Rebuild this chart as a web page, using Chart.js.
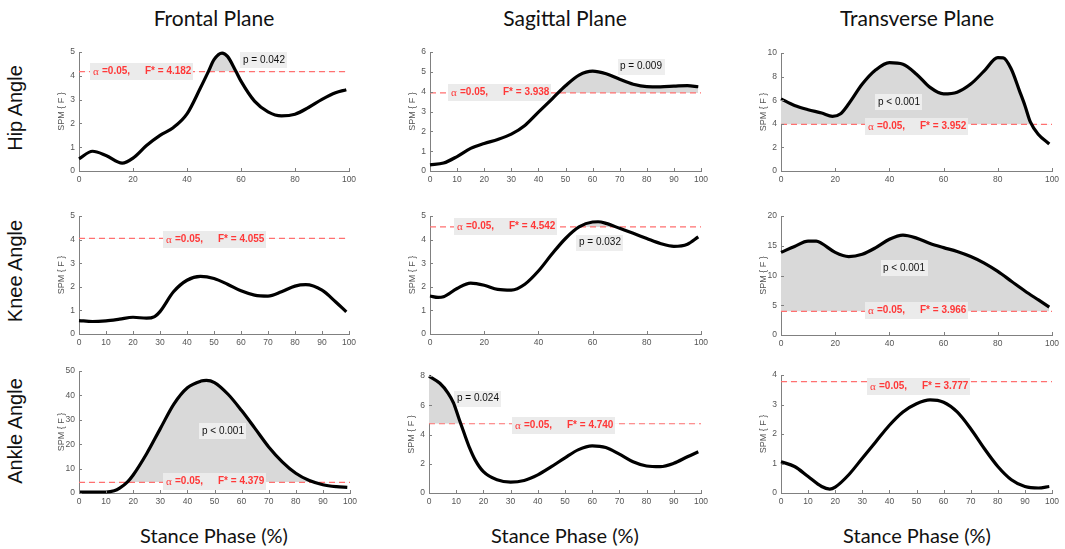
<!DOCTYPE html>
<html>
<head>
<meta charset="utf-8">
<script src="https://cdn.jsdelivr.net/npm/chart.js@4.4.1/dist/chart.umd.min.js"></script>
<style>
  body { margin: 0; background: #fff; }
  #page { position: relative; width: 1065px; height: 549px; overflow: hidden; }
  #page canvas { position: absolute; }
  .colTitle, .xTitle { position: absolute; font-family: Lato, "Open Sans", sans-serif; font-size: 21px; color: #111; transform: translate(-50%, -50%); white-space: nowrap; }
  .xTitle { font-size: 20px; }
  .rowTitle { position: absolute; font-family: "Liberation Sans", Arial, sans-serif; font-size: 20px; color: #111; white-space: nowrap; transform: translate(-50%, -50%) rotate(-90deg); }
</style>
</head>
<body>
<div id="page"></div>
<script>
// labels
const planes = ["Frontal Plane", "Sagittal Plane", "Transverse Plane"];
const joints = ["Hip Angle", "Knee Angle", "Ankle Angle"];
const xTitle = "Stance Phase (%)";

// SPM{F} curves (stance % , F)
const hipFrontalX = [0, 5, 10, 16, 20, 25, 30, 35, 40, 45, 48, 50, 53, 55, 58, 60, 65, 70, 75, 80, 85, 90, 95, 99];
const hipFrontalF = [0.51, 0.83, 0.65, 0.33, 0.54, 1.07, 1.5, 1.83, 2.4, 3.5, 4.2, 4.68, 4.96, 4.82, 4.22, 3.78, 2.94, 2.49, 2.32, 2.39, 2.67, 3.01, 3.29, 3.42];
const hipSagittalX = [0, 5, 10, 15, 20, 25, 30, 35, 40, 45, 50, 55, 60, 65, 70, 75, 80, 85, 90, 95, 99];
const hipSagittalF = [0.31, 0.4, 0.73, 1.14, 1.39, 1.59, 1.86, 2.3, 2.97, 3.63, 4.3, 4.84, 5.04, 4.91, 4.63, 4.38, 4.26, 4.25, 4.28, 4.31, 4.25];
const hipTransverseX = [0, 5, 10, 15, 19, 22, 25, 30, 35, 40, 45, 50, 55, 60, 65, 70, 75, 80, 82, 85, 88, 90, 92, 95, 99];
const hipTransverseF = [6.12, 5.56, 5.2, 4.92, 4.64, 4.86, 5.7, 7.37, 8.58, 9.19, 9.05, 8.21, 7.09, 6.54, 6.68, 7.37, 8.49, 9.61, 9.6, 8.63, 6.8, 5.56, 4.16, 3.1, 2.29];
const kneeFrontalX = [0, 5, 10, 15, 20, 25, 28, 30, 35, 40, 45, 50, 55, 60, 65, 70, 75, 80, 84, 90, 95, 99];
const kneeFrontalF = [0.57, 0.53, 0.56, 0.63, 0.71, 0.67, 0.74, 0.95, 1.79, 2.28, 2.44, 2.35, 2.11, 1.83, 1.65, 1.61, 1.79, 2.03, 2.09, 1.86, 1.37, 0.94];
const kneeSagittalX = [0, 3, 5, 10, 15, 20, 25, 30, 35, 40, 45, 50, 55, 60, 62, 65, 70, 75, 80, 85, 90, 95, 99];
const kneeSagittalF = [1.61, 1.55, 1.58, 1.93, 2.16, 2.07, 1.89, 1.86, 2.11, 2.67, 3.39, 4.05, 4.54, 4.75, 4.76, 4.69, 4.48, 4.27, 4.05, 3.84, 3.72, 3.81, 4.12];
const kneeTransverseX = [0, 5, 10, 13, 15, 20, 25, 30, 35, 40, 45, 50, 55, 60, 65, 70, 75, 80, 85, 90, 95, 99];
const kneeTransverseF = [13.9, 14.9, 15.8, 15.8, 15.4, 13.9, 13.2, 13.6, 14.7, 16.1, 16.8, 16.3, 15.4, 14.7, 14.05, 13.2, 12.1, 10.7, 9.05, 7.4, 5.9, 4.7];
const ankleFrontalX = [0, 5, 10, 13, 15, 18, 20, 25, 30, 35, 40, 45, 47, 50, 55, 60, 65, 70, 75, 80, 85, 90, 95, 99];
const ankleFrontalF = [0.4, 0.4, 0.4, 0.9, 2, 4.7, 7.4, 16.2, 26.4, 36.5, 43.2, 45.9, 46.2, 45.3, 40.5, 33.8, 26.4, 18.9, 12.8, 8.1, 5.1, 3.4, 2.6, 2.3];
const ankleSagittalX = [0, 4, 7, 9, 11, 13, 15, 17, 20, 25, 30, 35, 40, 45, 50, 55, 60, 65, 70, 75, 80, 85, 90, 95, 99];
const ankleSagittalF = [8.0, 7.51, 6.84, 6.17, 5.1, 4.05, 3.05, 2.25, 1.46, 0.9, 0.74, 0.86, 1.24, 1.8, 2.41, 2.97, 3.22, 3.11, 2.66, 2.14, 1.85, 1.8, 2.03, 2.48, 2.82];
const ankleTransverseX = [0, 5, 10, 15, 18, 20, 25, 30, 35, 40, 45, 50, 55, 60, 65, 70, 75, 80, 85, 90, 95, 99];
const ankleTransverseF = [1.06, 0.9, 0.56, 0.22, 0.13, 0.2, 0.62, 1.18, 1.74, 2.3, 2.75, 3.03, 3.16, 3.08, 2.75, 2.18, 1.51, 0.9, 0.45, 0.22, 0.17, 0.22];

const curveX = [hipFrontalX, hipSagittalX, hipTransverseX, kneeFrontalX, kneeSagittalX, kneeTransverseX, ankleFrontalX, ankleSagittalX, ankleTransverseX];
const curveF = [hipFrontalF, hipSagittalF, hipTransverseF, kneeFrontalF, kneeSagittalF, kneeTransverseF, ankleFrontalF, ankleSagittalF, ankleTransverseF];

// critical thresholds, p-values, axis ticks
const fCrit = [4.182, 3.938, 3.952, 4.055, 4.542, 3.966, 4.379, 4.740, 3.777];
const pText = ["p = 0.042", "p = 0.009", "p < 0.001", null, "p = 0.032", "p < 0.001", "p < 0.001", "p = 0.024", null];
const yMax = [5, 6, 10, 5, 5, 20, 50, 8, 4];
const yStep = [1, 1, 2, 1, 1, 5, 10, 2, 1];
const xStep = [20, 10, 20, 10, 20, 20, 10, 10, 10];

// layout: plot area boxes [left, top, right, bottom] in page pixels
const plotBoxes = [
  [79, 51, 349, 171], [430, 51, 701, 171], [781, 52, 1052, 171],
  [79, 215, 349, 334], [430, 215, 701, 334], [781, 215, 1052, 335],
  [79, 370, 350, 493], [429, 375, 701, 493], [781, 374, 1052, 493]
];
// where the label boxes sit, in data units [x, y]
const critLabelAt = [[23, 4.19], [25.7, 3.95], [50, 3.78], [50.2, 3.99], [27.7, 4.58], [50, 4.17], [50, 4.6], [49.6, 4.62], [50.7, 3.62]];
const pLabelAt = [[68.5, 4.65], [78, 5.27], [43.5, 5.84], null, [62.7, 3.88], [45.4, 11.25], [53.1, 25.3], [18, 6.45], null];

const Y_AXIS_W = 23, X_AXIS_H = 20, PAD_TOP = 8, PAD_RIGHT = 12;
const page = document.getElementById("page");

function addText(cls, text, x, y) {
  const d = document.createElement("div");
  d.className = cls;
  d.textContent = text;
  d.style.left = x + "px";
  d.style.top = y + "px";
  page.appendChild(d);
}

[214, 565, 917].forEach((cx, i) => {
  addText("colTitle", planes[i], cx, 17);
  addText("xTitle", xTitle, cx, 535);
});
[108, 271, 431].forEach((cy, i) => addText("rowTitle", joints[i], 15, cy));

// MATLAB-like ticks pointing into the axes
const inwardTicks = {
  id: "inwardTicks",
  afterDraw(chart) {
    const { ctx, chartArea: a, scales } = chart;
    ctx.save();
    ctx.strokeStyle = "#808080";
    ctx.lineWidth = 1;
    ctx.beginPath();
    scales.x.ticks.forEach((t) => {
      const px = Math.round(scales.x.getPixelForValue(t.value)) + 0.5;
      ctx.moveTo(px, a.bottom);
      ctx.lineTo(px, a.bottom - 3);
    });
    scales.y.ticks.forEach((t) => {
      const py = Math.round(scales.y.getPixelForValue(t.value)) + 0.5;
      ctx.moveTo(a.left, py);
      ctx.lineTo(a.left + 3, py);
    });
    ctx.stroke();
    ctx.restore();
  }
};

// alpha / F* box and p-value box, drawn after the dashed line but under the curve
const spmLabels = {
  id: "spmLabels",
  afterDatasetDraw(chart, args, opts) {
    if (args.index !== 1) return;
    const { ctx, scales } = chart;
    ctx.save();
    ctx.textBaseline = "middle";
    // critical threshold label
    const cx = scales.x.getPixelForValue(opts.critAt[0]);
    const cy = scales.y.getPixelForValue(opts.critAt[1]);
    const bw = 103, bh = 17;
    const bl = Math.round(cx - bw / 2), bt = Math.round(cy - bh / 2);
    ctx.fillStyle = "#ebebeb";
    ctx.fillRect(bl, bt, bw, bh);
    ctx.fillStyle = "#ff3838";
    ctx.font = "11px 'Liberation Serif', serif";
    ctx.fillText("α", bl + 3, bt + bh / 2 + 1);
    ctx.font = "bold 10px 'Liberation Sans', Arial, sans-serif";
    ctx.fillText("=0.05,", bl + 12, bt + bh / 2);
    ctx.fillText("F* = " + opts.crit.toFixed(3), bl + 55, bt + bh / 2);
    // p-value label
    if (opts.p) {
      ctx.font = "10px 'Liberation Sans', Arial, sans-serif";
      const tw = ctx.measureText(opts.p).width;
      const px = scales.x.getPixelForValue(opts.pAt[0]);
      const py = scales.y.getPixelForValue(opts.pAt[1]);
      const w = tw + 5, h = 16;
      ctx.fillStyle = "#eeeeee";
      ctx.fillRect(Math.round(px - w / 2), Math.round(py - h / 2), w, h);
      ctx.fillStyle = "#111";
      ctx.fillText(opts.p, Math.round(px - tw / 2), py);
    }
    ctx.restore();
  }
};

const tickFont = { family: "'Liberation Sans', Arial, sans-serif", size: 8.5 };

plotBoxes.forEach((b, i) => {
  const [L, T, R, B] = b;
  const canvas = document.createElement("canvas");
  const w = R - L + Y_AXIS_W + PAD_RIGHT;
  const h = B - T + PAD_TOP + X_AXIS_H;
  canvas.width = w;
  canvas.height = h;
  canvas.style.left = L - Y_AXIS_W + "px";
  canvas.style.top = T - PAD_TOP + "px";
  canvas.style.width = w + "px";
  canvas.style.height = h + "px";
  page.appendChild(canvas);

  const pts = curveX[i].map((x, k) => ({ x: x, y: curveF[i][k] }));
  const thr = fCrit[i];

  new Chart(canvas.getContext("2d"), {
    type: "line",
    data: {
      datasets: [
        {
          data: pts,
          borderColor: "#000",
          borderWidth: 3.2,
          pointRadius: 0,
          cubicInterpolationMode: "monotone",
          clip: 6,
          fill: { target: { value: thr }, above: "#d9d9d9", below: "rgba(0,0,0,0)" }
        },
        {
          data: [{ x: 0, y: thr }, { x: 100, y: thr }],
          borderColor: "#ff7070",
          borderWidth: 1.2,
          borderDash: [6, 4],
          pointRadius: 0,
          fill: false
        }
      ]
    },
    options: {
      responsive: false,
      animation: false,
      devicePixelRatio: 1,
      layout: { autoPadding: false, padding: { top: PAD_TOP, right: PAD_RIGHT, left: 0, bottom: 0 } },
      plugins: {
        legend: { display: false },
        tooltip: { enabled: false },
        filler: { drawTime: "beforeDatasetsDraw" },
        spmLabels: { crit: thr, critAt: critLabelAt[i], p: pText[i], pAt: pLabelAt[i] }
      },
      scales: {
        x: {
          type: "linear",
          min: 0,
          max: 100,
          grid: { display: false, drawTicks: false },
          border: { color: "#808080", width: 1 },
          ticks: { stepSize: xStep[i], padding: 4, color: "#555", font: tickFont, maxRotation: 0 },
          afterFit(scale) { scale.height = X_AXIS_H; }
        },
        y: {
          min: 0,
          max: yMax[i],
          grid: { display: false, drawTicks: false },
          border: { color: "#808080", width: 1 },
          ticks: { stepSize: yStep[i], padding: 4, color: "#555", font: tickFont },
          title: { display: true, text: "SPM { F }", color: "#555", padding: 0, font: { family: "'Liberation Sans', Arial, sans-serif", size: 9 } },
          afterFit(scale) { scale.width = Y_AXIS_W; }
        }
      }
    },
    plugins: [inwardTicks, spmLabels]
  });
});
</script>
</body>
</html>
